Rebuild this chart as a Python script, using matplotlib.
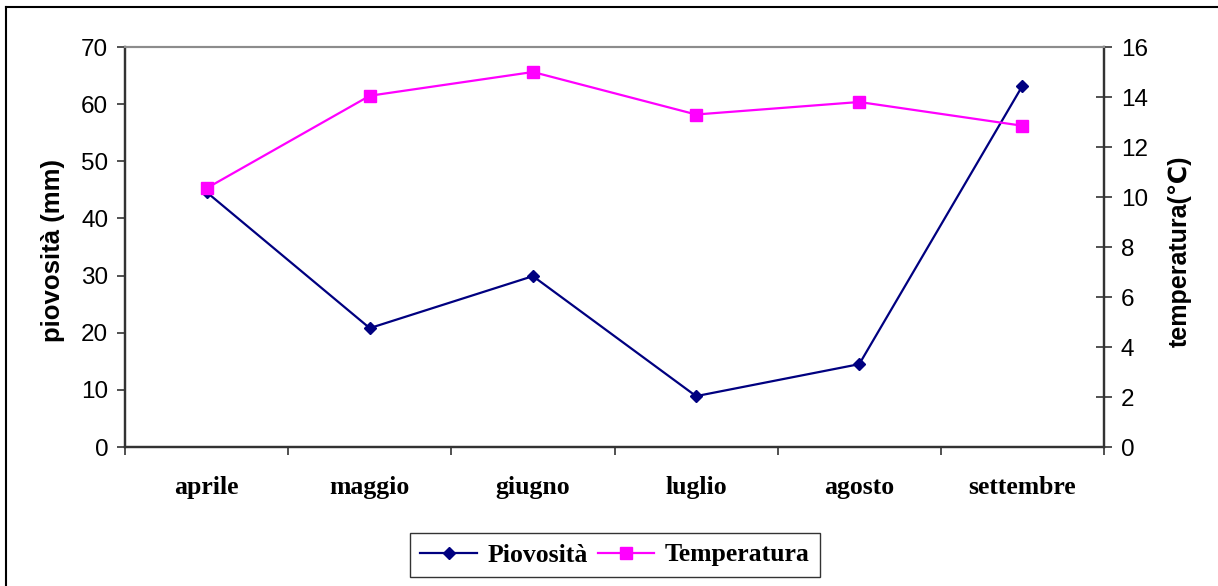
import matplotlib.pyplot as plt
from matplotlib.lines import Line2D

# Dati mensili
mesi = ['aprile', 'maggio', 'giugno', 'luglio', 'agosto', 'settembre']
piovosita = [44.6, 20.8, 29.9, 8.9, 14.5, 63.2]
temperatura = [10.35, 14.05, 15.0, 13.3, 13.8, 12.85]

sans = ['Liberation Sans', 'DejaVu Sans']
serif = ['Liberation Serif', 'DejaVu Serif']

fig = plt.figure(figsize=(12.18, 5.86), dpi=100)
ax = fig.add_axes([125 / 1218, 139 / 586, 979 / 1218, 400 / 586])
ax2 = ax.twinx()

x = list(range(len(mesi)))
l1, = ax.plot(x, piovosita, color='#000080', lw=1.6, marker='D', markersize=6.6,
              label='Piovosità', zorder=3)
l2, = ax2.plot(x, temperatura, color='#FF00FF', lw=1.6, marker='s', markersize=9,
               label='Temperatura', zorder=3)

# Asse sinistro (piovosità)
ax.set_xlim(-0.5, 5.5)
ax.set_ylim(0, 70)
ax.set_yticks(range(0, 71, 10))
ax.tick_params(axis='y', direction='out', length=6, width=1.2, color='#333333',
               pad=6, labelsize=17.5)
for t in ax.get_yticklabels():
    t.set_fontfamily(sans)
ax.set_ylabel('piovosità (mm)', fontsize=18.5, fontweight='bold', family=sans)
ax.yaxis.set_label_coords(-0.0613, 0.49)

# Asse destro (temperatura)
ax2.set_ylim(0, 16)
ax2.set_yticks(range(0, 17, 2))
ax2.tick_params(axis='y', direction='inout', length=12, width=1.2, color='#333333',
                pad=6, labelsize=17.5)
for t in ax2.get_yticklabels():
    t.set_fontfamily(sans)
ax2.set_ylabel('temperatura(℃)', fontsize=18, fontweight='bold', family=sans,
               rotation=90)
ax2.yaxis.set_label_coords(1.0654, 0.49)

# Categorie sull'asse x
ax.set_xticks(x)
ax.set_xticklabels(mesi, fontsize=18.5, fontweight='bold', family=serif)
ax.set_xticks([i - 0.5 for i in range(len(mesi) + 1)], minor=True)
ax.tick_params(axis='x', which='major', length=0, pad=21)
ax.tick_params(axis='x', which='minor', direction='out', length=6, width=1.2,
               color='#333333')

for a in (ax, ax2):
    a.spines['top'].set_color('#8c8c8c')
    a.spines['top'].set_linewidth(1.5)
    for s in ('left', 'right', 'bottom'):
        a.spines[s].set_color('#333333')
        a.spines[s].set_linewidth(1.6)

# Legenda sotto il grafico
leg = fig.legend(handles=[l1, l2], loc='center', ncol=2,
                 bbox_to_anchor=(615 / 1218, 1 - 555 / 586),
                 prop={'family': serif, 'weight': 'bold', 'size': 18.5},
                 frameon=True, fancybox=False, edgecolor='black',
                 handlelength=2.2, handletextpad=0.4, columnspacing=0.4,
                 borderpad=0.4)
leg.get_frame().set_linewidth(1.0)

# Cornice esterna del grafico
fig.add_artist(Line2D([6 / 1218, 6 / 1218], [0, 1 - 7 / 586], color='black', lw=1.5,
                      transform=fig.transFigure))
fig.add_artist(Line2D([6 / 1218, 1], [1 - 7 / 586, 1 - 7 / 586], color='black', lw=1.5,
                      transform=fig.transFigure))

fig.savefig('out.png', dpi=100, facecolor='white')
